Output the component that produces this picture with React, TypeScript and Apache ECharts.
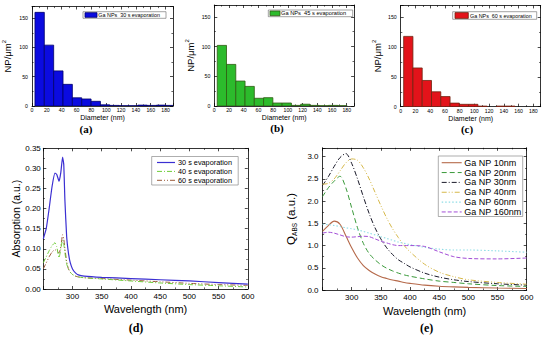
import React, { useEffect, useRef } from "react";
import * as echarts from "echarts";

// ---------- data ----------
const BIN_WIDTH = 12.6;
const binCenters = [10.3, 22.9, 35.5, 48.1, 60.7, 73.3, 85.9, 98.5, 111.1, 123.7, 136.3, 148.9, 161.5, 174.1, 186.7];
const countsA = [160, 104, 60, 37, 14, 12, 8, 2, 1, 0.5, 0.5, 1.5, 1, 1.5, 1];
const countsB = [102, 70, 42, 33, 13, 14, 5, 5, 1, 3, 1, 0.5, 1, 0.5, 0];
const countsC = [118, 65, 44, 25, 17, 6, 4, 4, 1, 0, 1, 1, 0, 0, 0];
const histLegend = ["Ga NPs  30 s evaporation", "Ga NPs  45 s evaporation", "Ga NPs  60 s evaporation"];

const wlD = [250, 255, 260, 265, 270, 273, 277, 280, 283, 285, 287, 290, 293, 296, 300, 305, 310, 320, 350, 400, 450, 500, 550, 600];
const abs30 = [0.125, 0.15, 0.2, 0.255, 0.288, 0.285, 0.268, 0.29, 0.328, 0.31, 0.22, 0.13, 0.09, 0.066, 0.05, 0.04, 0.035, 0.032, 0.029, 0.026, 0.023, 0.02, 0.016, 0.012];
const abs40 = [0.065, 0.08, 0.095, 0.108, 0.115, 0.105, 0.078, 0.1, 0.122, 0.112, 0.09, 0.062, 0.05, 0.042, 0.036, 0.032, 0.03, 0.028, 0.025, 0.02, 0.015, 0.011, 0.008, 0.005];
const abs60 = [0.05, 0.065, 0.08, 0.092, 0.098, 0.094, 0.09, 0.105, 0.135, 0.125, 0.1, 0.068, 0.05, 0.042, 0.036, 0.032, 0.03, 0.028, 0.026, 0.022, 0.018, 0.014, 0.011, 0.009];
const absNames = ["30 s evaporation", "40 s evaporation", "60 s evaporation"];

const wlE = [250, 260, 270, 280, 290, 300, 310, 320, 330, 340, 350, 360, 370, 380, 390, 400, 425, 450, 475, 500, 550, 600];
const q10 = [1.32, 1.45, 1.55, 1.48, 1.22, 0.95, 0.72, 0.55, 0.44, 0.36, 0.3, 0.26, 0.225, 0.2, 0.17, 0.15, 0.11, 0.085, 0.07, 0.06, 0.045, 0.035];
const q20 = [2.1, 2.3, 2.45, 2.56, 2.3, 1.85, 1.4, 1.05, 0.82, 0.68, 0.57, 0.49, 0.43, 0.38, 0.34, 0.31, 0.25, 0.2, 0.17, 0.14, 0.1, 0.08];
const q30 = [2.35, 2.55, 2.78, 2.98, 3.07, 2.85, 2.5, 2.1, 1.72, 1.4, 1.15, 0.95, 0.8, 0.68, 0.6, 0.52, 0.38, 0.29, 0.23, 0.19, 0.14, 0.11];
const q40 = [2.38, 2.4, 2.5, 2.68, 2.86, 2.95, 2.92, 2.75, 2.5, 2.2, 1.9, 1.62, 1.38, 1.18, 1.0, 0.86, 0.58, 0.4, 0.3, 0.23, 0.17, 0.13];
const q60 = [1.48, 1.47, 1.45, 1.43, 1.4, 1.38, 1.35, 1.32, 1.28, 1.24, 1.2, 1.16, 1.12, 1.08, 1.05, 1.02, 0.96, 0.92, 0.9, 0.9, 0.88, 0.85];
const q160 = [1.28, 1.3, 1.28, 1.24, 1.2, 1.19, 1.2, 1.21, 1.2, 1.15, 1.1, 1.06, 1.02, 1.0, 1.0, 1.0, 0.98, 0.86, 0.75, 0.71, 0.7, 0.72];
const qNames = ["Ga NP 10nm", "Ga NP 20nm", "Ga NP 30nm", "Ga NP 40nm", "Ga NP 60nm", "Ga NP 160nm"];

const panelLabels = ["(a)", "(b)", "(c)", "(d)", "(e)"];

// ---------- styles ----------
const FONT = "'Liberation Sans', Arial, sans-serif";
const SERIF = "'Liberation Serif', 'Times New Roman', serif";
const HIST_STYLE = [
  { fill: "#0b0be0", stroke: "#00006a" },
  { fill: "#2cbb2c", stroke: "#2f5a12" },
  { fill: "#e3131a", stroke: "#6e2410" },
];
const D_STYLE = [
  { color: "#3b2fd2", dash: "solid" as any, width: 1.2 },
  { color: "#6fcc3a", dash: [5, 2, 1, 2], width: 1 },
  { color: "#9a5a3a", dash: [5, 2, 1, 2, 1, 2], width: 1 },
];
const E_STYLE = [
  { color: "#b5694a", dash: "solid" as any, width: 1.1 },
  { color: "#3a9a3a", dash: [5, 3], width: 1 },
  { color: "#1a1a2a", dash: [5, 2, 1, 2], width: 1 },
  { color: "#d6b84a", dash: [5, 2, 1, 2, 1, 2], width: 1 },
  { color: "#8fdde6", dash: [1.5, 2], width: 1.1 },
  { color: "#a24ed6", dash: [4, 2], width: 1 },
];

const GRIDS = [
  { left: 31, top: 6.5, width: 142, height: 99.5 },
  { left: 214.3, top: 5, width: 139.8, height: 101 },
  { left: 400.7, top: 5.4, width: 140, height: 101.3 },
  { left: 43.3, top: 148.3, width: 204.5, height: 140.7 },
  { left: 322.5, top: 147.8, width: 204.2, height: 142.2 },
];

function axisBase(gi: number, min: number, max: number, interval: number) {
  return {
    type: "value",
    gridIndex: gi,
    min,
    max,
    interval,
    axisLine: { show: true, onZero: false, lineStyle: { color: "#000", width: 0.8 } },
    axisTick: { show: true, inside: true, length: 3, lineStyle: { color: "#000", width: 0.7 } },
    minorTick: { show: true, splitNumber: 2, length: 1.6, lineStyle: { color: "#000", width: 0.6 } },
    splitLine: { show: false },
  };
}

function makeAxes(
  gi: number,
  x: { min: number; max: number; interval: number; size: number; margin: number; name: string; nameSize: number; nameGap: number; showMin: boolean; showMax: boolean },
  y: { min: number; max: number; interval: number; size: number; margin: number; name: string; nameSize: number; nameGap: number; showMax: boolean; dec: number; rich?: any }
) {
  const xs = [
    {
      ...axisBase(gi, x.min, x.max, x.interval),
      position: "bottom",
      name: x.name,
      nameLocation: "middle",
      nameGap: x.nameGap,
      nameTextStyle: { fontFamily: FONT, fontSize: x.nameSize, color: "#000" },
      axisLabel: { show: true, fontFamily: FONT, fontSize: x.size, color: "#000", margin: x.margin, showMaxLabel: x.showMax, showMinLabel: x.showMin },
    },
    { ...axisBase(gi, x.min, x.max, x.interval), position: "top", axisLabel: { show: false } },
  ];
  const ys = [
    {
      ...axisBase(gi, y.min, y.max, y.interval),
      position: "left",
      name: y.name,
      nameLocation: "middle",
      nameGap: y.nameGap,
      nameTextStyle: { fontFamily: FONT, fontSize: y.nameSize, color: "#000", rich: y.rich },
      axisLabel: {
        show: true,
        fontFamily: FONT,
        fontSize: y.size,
        color: "#000",
        margin: y.margin,
        showMaxLabel: y.showMax,
        formatter: (v: number) => v.toFixed(y.dec),
      },
    },
    { ...axisBase(gi, y.min, y.max, y.interval), position: "right", axisLabel: { show: false } },
  ];
  return { xs, ys };
}

export default function App() {
  const ref = useRef<HTMLDivElement>(null);
  useEffect(() => {
    document.body.style.margin = "0";
    if (!ref.current) return;
    const chart = echarts.init(ref.current, undefined, { renderer: "svg" });

    const xAxis: any[] = [];
    const yAxis: any[] = [];
    const npRich = { sup: { fontSize: 6, verticalAlign: "top", lineHeight: 12, fontFamily: FONT } };
    const yNameGaps = [19, 18, 17.7];
    for (let i = 0; i < 3; i++) {
      const { xs, ys } = makeAxes(
        i,
        { min: 0, max: 190, interval: 20, size: 5.2, margin: 1.5, name: "Diameter (nm)", nameSize: 7, nameGap: 8, showMin: true, showMax: false },
        { min: 0, max: 170, interval: 50, size: 5.2, margin: 4, name: "NP/μm{sup|2}", nameSize: 9.5, nameGap: yNameGaps[i], showMax: false, dec: 0, rich: npRich }
      );
      xAxis.push(...xs);
      yAxis.push(...ys);
    }
    {
      const { xs, ys } = makeAxes(
        3,
        { min: 250, max: 600, interval: 50, size: 8, margin: 3, name: "Wavelength (nm)", nameSize: 11, nameGap: 14.5, showMin: false, showMax: true },
        { min: 0, max: 0.35, interval: 0.05, size: 8, margin: 2.5, name: "Absorption (a.u.)", nameSize: 10.5, nameGap: 21.4, showMax: true, dec: 2 }
      );
      xAxis.push(...xs);
      yAxis.push(...ys);
    }
    {
      const { xs, ys } = makeAxes(
        4,
        { min: 250, max: 600, interval: 50, size: 8, margin: 3.3, name: "Wavelength (nm)", nameSize: 11, nameGap: 15.5, showMin: false, showMax: true },
        {
          min: 0,
          max: 3.2,
          interval: 0.5,
          size: 8,
          margin: 4,
          name: "{q|Q}{sub|ABS}{q| (a.u.)}",
          nameSize: 11.5,
          nameGap: 25,
          showMax: false,
          dec: 1,
          rich: {
            q: { fontSize: 11.5, fontFamily: FONT, color: "#000", verticalAlign: "middle", lineHeight: 14 },
            sub: { fontSize: 6.5, fontFamily: FONT, color: "#000", verticalAlign: "bottom", lineHeight: 14 },
          },
        }
      );
      xAxis.push(...xs);
      yAxis.push(...ys);
    }

    const series: any[] = [];
    const counts = [countsA, countsB, countsC];
    counts.forEach((arr, i) => {
      series.push({
        type: "custom",
        name: histLegend[i],
        xAxisIndex: 2 * i,
        yAxisIndex: 2 * i,
        clip: true,
        encode: { x: 0, y: 1 },
        data: binCenters.map((c, k) => [c, arr[k]]),
        renderItem: (params: any, api: any) => {
          const c = api.value(0);
          const v = api.value(1);
          if (!v) return null;
          const p0 = api.coord([c - BIN_WIDTH / 2, v]);
          const p1 = api.coord([c + BIN_WIDTH / 2, 0]);
          return {
            type: "rect",
            shape: { x: p0[0], y: p0[1], width: p1[0] - p0[0], height: p1[1] - p0[1] },
            style: { fill: HIST_STYLE[i].fill, stroke: HIST_STYLE[i].stroke, lineWidth: 0.8 },
          };
        },
      });
    });
    [abs30, abs40, abs60].forEach((arr, i) => {
      series.push({
        type: "line",
        name: absNames[i],
        xAxisIndex: 6,
        yAxisIndex: 6,
        showSymbol: false,
        symbol: "none",
        smooth: 0.15,
        data: wlD.map((w, k) => [w, arr[k]]),
        lineStyle: { color: D_STYLE[i].color, width: D_STYLE[i].width, type: D_STYLE[i].dash },
        z: 3 - i,
      });
    });
    [q10, q20, q30, q40, q60, q160].forEach((arr, i) => {
      series.push({
        type: "line",
        name: qNames[i],
        xAxisIndex: 8,
        yAxisIndex: 8,
        showSymbol: false,
        symbol: "none",
        smooth: 0.3,
        data: wlE.map((w, k) => [w, arr[k]]),
        lineStyle: { color: E_STYLE[i].color, width: E_STYLE[i].width, type: E_STYLE[i].dash },
      });
    });

    // legends drawn as graphics
    const graphic: any[] = [];
    const histLeg = [
      { box: [83, 11.7, 83, 6.6], sw: [85, 12.7, 12, 4.6], tx: 98.3, ty: 15, fs: 5.4 },
      { box: [268.3, 10, 84.4, 6.7], sw: [270, 11, 10, 4.7], tx: 281, ty: 13.4, fs: 5.7 },
      { box: [452.7, 11.7, 84, 7.6], sw: [455, 12.6, 13.3, 5.8], tx: 470, ty: 15.5, fs: 5.4 },
    ];
    histLeg.forEach((l, i) => {
      graphic.push({ type: "rect", shape: { x: l.box[0], y: l.box[1], width: l.box[2], height: l.box[3] }, style: { fill: "#fff", stroke: "#666", lineWidth: 0.6 }, z: 10 });
      graphic.push({ type: "rect", shape: { x: l.sw[0], y: l.sw[1], width: l.sw[2], height: l.sw[3] }, style: { fill: HIST_STYLE[i].fill, stroke: HIST_STYLE[i].stroke, lineWidth: 0.8 }, z: 11 });
      graphic.push({ type: "text", x: l.tx, y: l.ty, style: { text: histLegend[i], fontFamily: FONT, fontSize: l.fs, fill: "#000", verticalAlign: "middle" }, z: 11 });
    });
    // (d) legend
    graphic.push({ type: "rect", shape: { x: 151.7, y: 156.5, width: 86.5, height: 28.5 }, style: { fill: "#fff", stroke: "#777", lineWidth: 0.6 }, z: 10 });
    absNames.forEach((n, i) => {
      const y = 162.5 + i * 8.9;
      graphic.push({ type: "line", shape: { x1: 157, y1: y, x2: 175, y2: y }, style: { stroke: D_STYLE[i].color, lineWidth: D_STYLE[i].width, lineDash: D_STYLE[i].dash === "solid" ? null : D_STYLE[i].dash }, z: 11 });
      graphic.push({ type: "text", x: 178, y, style: { text: n, fontFamily: FONT, fontSize: 7.3, fill: "#000", verticalAlign: "middle" }, z: 11 });
    });
    // (e) legend
    graphic.push({ type: "rect", shape: { x: 438.3, y: 156, width: 84.4, height: 60.5 }, style: { fill: "#fff", stroke: "#777", lineWidth: 0.6 }, z: 10 });
    qNames.forEach((n, i) => {
      const y = 162.7 + i * 9.85;
      graphic.push({ type: "line", shape: { x1: 441.7, y1: y, x2: 461.7, y2: y }, style: { stroke: E_STYLE[i].color, lineWidth: E_STYLE[i].width, lineDash: E_STYLE[i].dash === "solid" ? null : E_STYLE[i].dash }, z: 11 });
      graphic.push({ type: "text", x: 464.3, y, style: { text: n, fontFamily: FONT, fontSize: 9, fill: "#000", verticalAlign: "middle" }, z: 11 });
    });
    // panel labels
    const labelPos = [
      [86, 129],
      [277, 128],
      [467, 128.5],
      [136, 327.7],
      [426.7, 327.7],
    ];
    panelLabels.forEach((t, i) => {
      graphic.push({
        type: "text",
        x: labelPos[i][0],
        y: labelPos[i][1],
        style: { text: t, fontFamily: SERIF, fontWeight: "bold", fontSize: i < 3 ? 11 : 12, fill: "#000", align: "center", verticalAlign: "middle" },
        z: 11,
      });
    });

    chart.setOption({
      animation: false,
      backgroundColor: "#fff",
      grid: GRIDS.map((g) => ({ ...g, containLabel: false })),
      xAxis,
      yAxis,
      series,
      graphic,
    });
    return () => chart.dispose();
  }, []);
  return <div ref={ref} style={{ width: 550, height: 340, position: "fixed", left: 0, top: 0 }} />;
}
